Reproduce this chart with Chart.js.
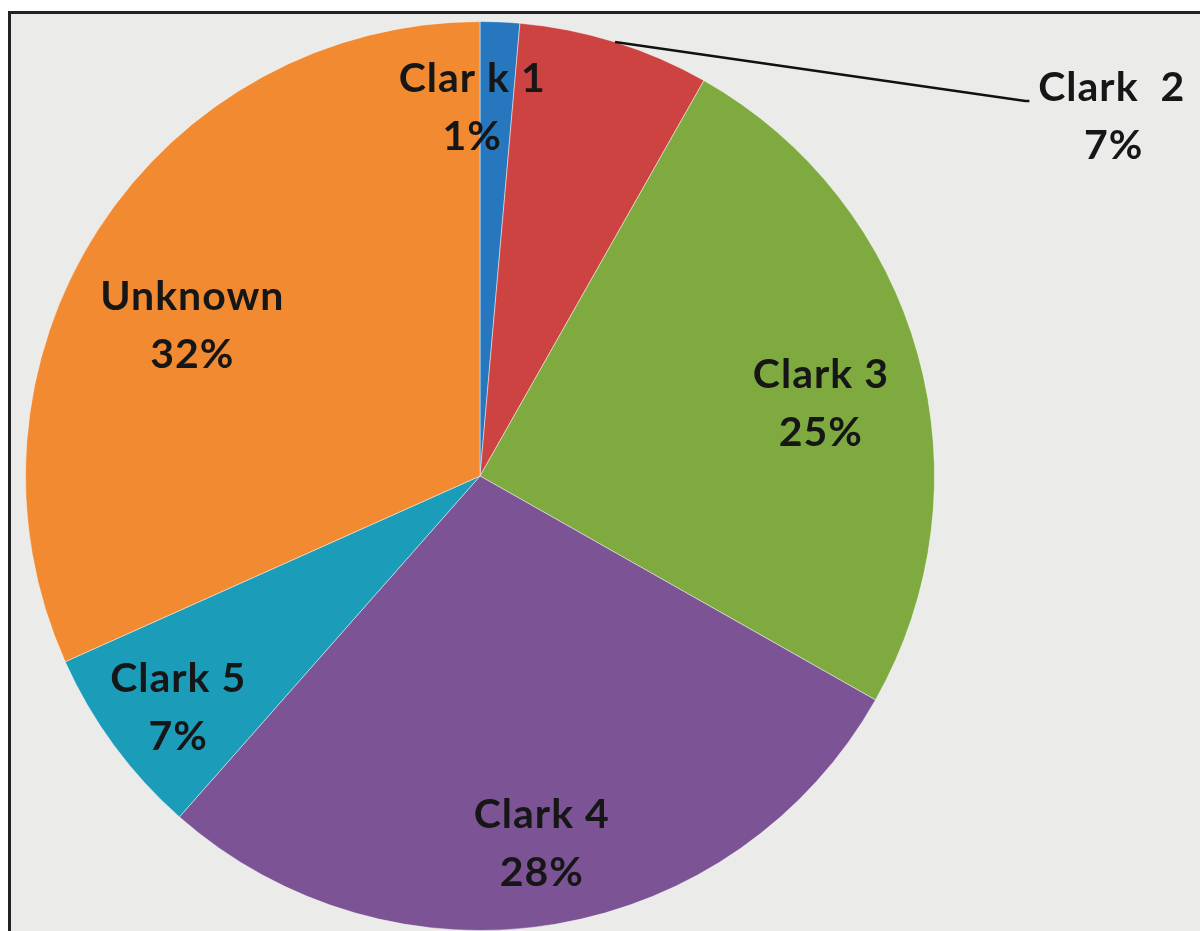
<!DOCTYPE html>
<html>
<head>
<meta charset="utf-8">
<script src="https://cdn.jsdelivr.net/npm/chart.js@4/dist/chart.umd.min.js"></script>
<style>
  html, body { margin: 0; padding: 0; background: #fff; }
  #wrap { position: relative; width: 1200px; height: 931px; overflow: hidden; }
  #frame {
    position: absolute; left: 8px; top: 11px; width: 1300px; height: 1000px;
    border: 3px solid #222; background: #ebebea;
  }
  #chartBox { position: absolute; left: 0; top: 0; width: 1200px; height: 931px; }
</style>
</head>
<body>
<div id="wrap">
  <div id="frame"></div>
  <div id="chartBox"><canvas id="pieChart"></canvas></div>
</div>
<script>
// categories and shares (percent)
var categories = ['Clar k 1', 'Clark  2', 'Clark 3', 'Clark 4', 'Clark 5', 'Unknown'];
var shares = [1.4, 6.8, 25.0, 28.3, 6.8, 31.7];
var sliceColors = ['#2677be', '#cd4341', '#7eaa3f', '#7c5496', '#1b9cb8', '#f18a31'];

// label placement: fraction of radius, and small tweaks
var labelRadius = [0.81, 0, 0.76, 0.82, 0.83, 0.72];
var labelShiftX = [-24, 0, 8, 0, 2, -13];
var labelShiftY = [0, 0, 20, 0, 8, 28];
var outsideLabel = [false, true, false, false, false, false];

var sliceLabels = {
    id: 'sliceLabels',
    afterDatasetsDraw: function (chart) {
        var ctx = chart.ctx;
        var meta = chart.getDatasetMeta(0);
        var total = shares.reduce(function (a, b) { return a + b; }, 0);
        ctx.save();
        ctx.font = 'bold 41px Lato, "Open Sans", sans-serif';
        ctx.letterSpacing = '1px';
        ctx.fillStyle = '#161616';
        ctx.textAlign = 'center';
        ctx.textBaseline = 'middle';
        meta.data.forEach(function (arc, i) {
            var p = arc.getProps(['x', 'y', 'startAngle', 'endAngle', 'outerRadius'], true);
            var mid = (p.startAngle + p.endAngle) / 2;
            var pct = Math.round(shares[i] / total * 100) + '%';
            var tx, ty;
            if (outsideLabel[i]) {
                var ex = p.x + Math.cos(mid) * p.outerRadius;
                var ey = p.y + Math.sin(mid) * p.outerRadius;
                var lx = p.x + p.outerRadius * 1.2;
                var ly = p.y - p.outerRadius * 0.825;
                ctx.beginPath();
                ctx.strokeStyle = '#111';
                ctx.lineWidth = 2.5;
                ctx.moveTo(ex, ey);
                ctx.lineTo(lx, ly);
                ctx.lineTo(lx + 4, ly);
                ctx.stroke();
                tx = p.x + p.outerRadius * 1.39;
                ty = p.y - p.outerRadius * 0.79;
            } else {
                tx = p.x + Math.cos(mid) * p.outerRadius * labelRadius[i] + labelShiftX[i];
                ty = p.y + Math.sin(mid) * p.outerRadius * labelRadius[i] + labelShiftY[i];
            }
            ctx.fillText(categories[i], tx, ty - 29);
            ctx.fillText(pct, tx + (outsideLabel[i] ? 2 : 0), ty + 29);
        });
        ctx.restore();
    }
};

var pieCanvas = document.getElementById('pieChart').getContext('2d');
var pieChart = new Chart(pieCanvas, {
    type: 'pie',
    data: {
        labels: categories,
        datasets: [{
            data: shares,
            backgroundColor: sliceColors,
            borderColor: 'rgba(255,255,255,0.45)',
            borderWidth: 1
        }]
    },
    options: {
        responsive: true,
        maintainAspectRatio: false,
        animation: false,
        layout: { padding: { left: 24, right: 264, top: 21, bottom: 0 } },
        plugins: {
            legend: { display: false },
            tooltip: { enabled: false }
        }
    },
    plugins: [sliceLabels]
});
</script>
</body>
</html>
